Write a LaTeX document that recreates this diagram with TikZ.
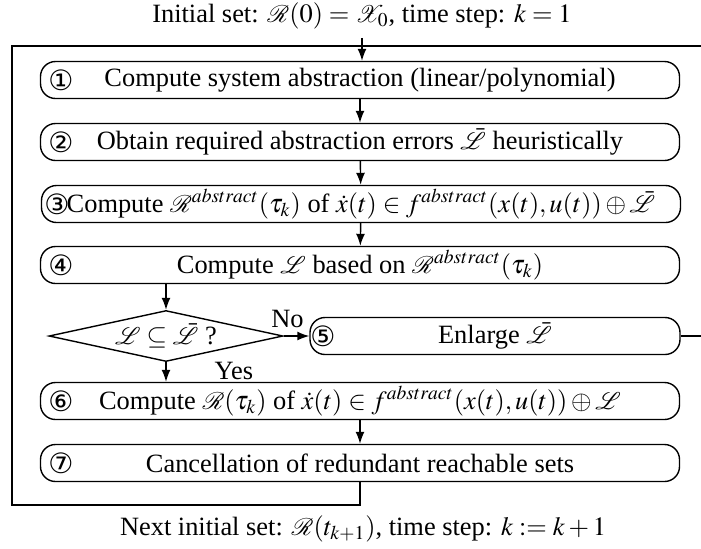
\documentclass[tikz,border=0pt,12pt]{standalone}
\usepackage{mathptmx}
\usepackage{fontspec}
\setmainfont{Liberation Serif}
\newfontfamily\circfont{DejaVu Sans}
\usepackage{mathrsfs}
\usetikzlibrary{arrows.meta,shapes.geometric,positioning,calc}

\begin{document}
\begin{tikzpicture}[x=.5pt,y=-.5pt,line width=.7pt,
    font=\fontsize{13.2}{15.8}\selectfont,
    >={Latex[length=6pt,width=4.5pt]},
    stepbox/.style={draw,rounded corners=7.5pt,minimum width=319.5pt,minimum height=18.5pt,inner sep=0pt},
    testbox/.style={draw,diamond,aspect=4.6,minimum width=117pt,minimum height=25.5pt,inner sep=0pt},
    numlabel/.style={font=\circfont\fontsize{14}{16}\selectfont,inner sep=0pt}]
    \useasboundingbox (0,0) rectangle (701,548);

    \node (init) at (362,16) {Initial set: $\mathscr{R}(0)=\mathscr{X}_0$, time step: $k=1$};

    \node[stepbox] (s1) at (360,80) {Compute system abstraction (linear/polynomial)};
    \node[numlabel] (n1) at (61,80) {①};

    \node[stepbox] (s2) at (360,142) {Obtain required abstraction errors $\bar{\mathscr{L}}$ heuristically};
    \node[numlabel] (n2) at (61,142) {②};

    \node[stepbox] (s3) at (361,204) {Compute $\mathscr{R}^{abstract}(\tau_k)$ of $\dot{x}(t)\in f^{abstract}(x(t),u(t))\oplus\bar{\mathscr{L}}$};
    \node[numlabel] (n3) at (57,204) {③};

    \node[stepbox] (s4) at (360,265) {Compute $\mathscr{L}$ based on $\mathscr{R}^{abstract}(\tau_k)$};
    \node[numlabel] (n4) at (61,265) {④};

    \node[testbox] (q) at (166,336) {$\mathscr{L}\subseteq\bar{\mathscr{L}}$ ?};

    \node[stepbox,minimum width=185pt] (s5) at (495,336) {Enlarge $\bar{\mathscr{L}}$};
    \node[numlabel] (n5) at (323,336) {⑤};

    \node[stepbox] (s6) at (360,401) {Compute $\mathscr{R}(\tau_k)$ of $\dot{x}(t)\in f^{abstract}(x(t),u(t))\oplus\mathscr{L}$};
    \node[numlabel] (n6) at (61,401) {⑥};

    \node[stepbox] (s7) at (360,463) {Cancellation of redundant reachable sets};
    \node[numlabel] (n7) at (61,463) {⑦};

    \node (next) at (363,529) {Next initial set: $\mathscr{R}(t_{k+1})$, time step: $k:=k+1$};

    \coordinate (bl) at (12,505);
    \coordinate (tl) at (12,46);
    \coordinate (tr) at (701,46);
    \coordinate (enl) at (701,336);

    \draw[->] (init.south) -- (init.south |- s1.north);
    \draw[->] (s1) -- (s2);
    \draw[->] (s2) -- (s3);
    \draw[->] (s3) -- (s4);
    \draw[->] (s4.south -| q.north) -- (q.north);
    \draw[->] (q) -- node[above,pos=.15,yshift=3pt,inner sep=1pt] {No} (s5);
    \draw[->] (q.south) -- node[pos=.45,right=20pt] {Yes} (q.south |- s6.north);
    \draw[->] (s6) -- (s7);
    \draw (s5) -- (enl);
    \draw (s7) |- (bl) -- (tl) -- (tr);
  \end{tikzpicture}
\end{document}
